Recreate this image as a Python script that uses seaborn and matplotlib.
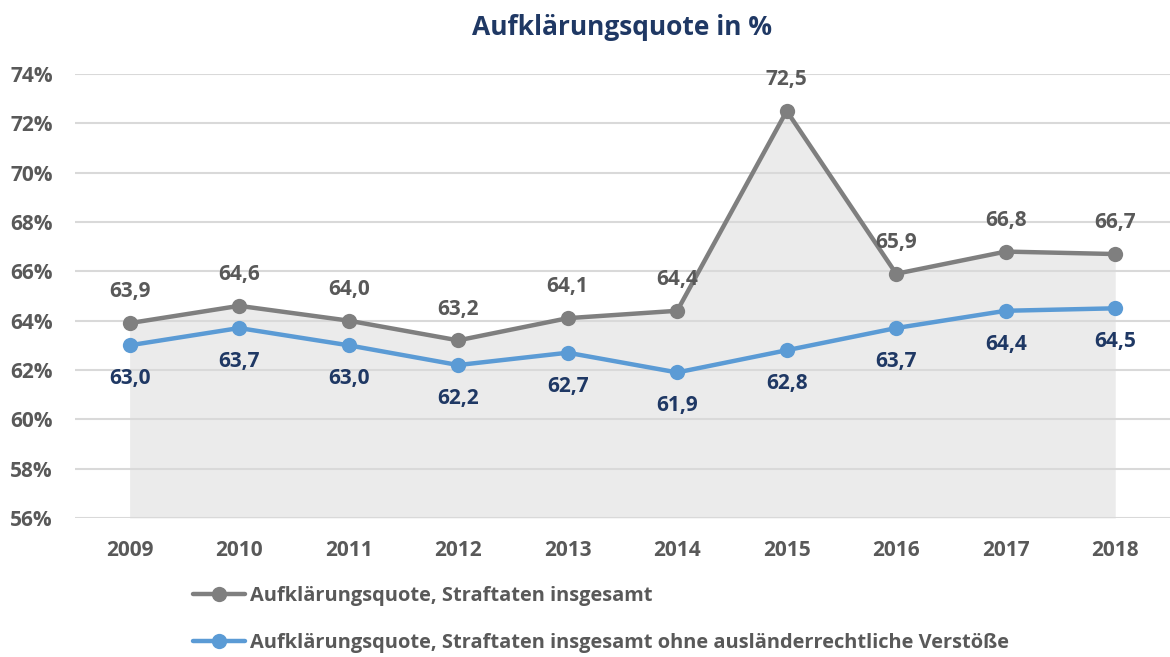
import matplotlib
matplotlib.use("Agg")
import matplotlib.pyplot as plt
import seaborn as sns
import pandas as pd

jahre = [2009, 2010, 2011, 2012, 2013, 2014, 2015, 2016, 2017, 2018]
insgesamt = [63.9, 64.6, 64.0, 63.2, 64.1, 64.4, 72.5, 65.9, 66.8, 66.7]
ohne_auslaender = [63.0, 63.7, 63.0, 62.2, 62.7, 61.9, 62.8, 63.7, 64.4, 64.5]
y_ticks = [56, 58, 60, 62, 64, 66, 68, 70, 72, 74]

name1 = "Aufklärungsquote, Straftaten insgesamt"
name2 = "Aufklärungsquote, Straftaten insgesamt ohne ausländerrechtliche Verstöße"

sns.set_style("white")
plt.rcParams["font.family"] = ["Open Sans", "DejaVu Sans"]

grau = "#7f7f7f"
blau = "#5b9bd5"
textgrau = "#595959"
navy = "#1f3864"

x = list(range(len(jahre)))
df = pd.DataFrame({"x": x * 2,
                   "wert": insgesamt + ohne_auslaender,
                   "reihe": [name1] * len(x) + [name2] * len(x)})

fig = plt.figure(figsize=(11.7, 6.57), dpi=100)
ax = fig.add_axes([0.064, 0.2116, 0.936, 0.6758])

# grey area under the total line
ax.fill_between(x, 56, insgesamt, color="#ebebeb", lw=0, zorder=0)

sns.lineplot(data=df, x="x", y="wert", hue="reihe", palette=[grau, blau],
             marker="o", markersize=11, markeredgewidth=0, linewidth=3.2,
             ax=ax, zorder=3)

for i, v in enumerate(insgesamt):
    ax.annotate(f"{v:.1f}".replace(".", ","), (i, v), xytext=(0, 22.5),
                textcoords="offset points", ha="center", va="center",
                fontsize=15, fontweight="bold", color=textgrau)
for i, v in enumerate(ohne_auslaender):
    ax.annotate(f"{v:.1f}".replace(".", ","), (i, v), xytext=(0, -24),
                textcoords="offset points", ha="center", va="center",
                fontsize=15, fontweight="bold", color=navy)

ax.set_xlim(-0.5, len(jahre) - 0.5)
ax.set_ylim(56, 74)
ax.set_yticks(y_ticks)
ax.set_yticklabels([f"{t}%" for t in y_ticks])
ax.set_xticks(x)
ax.set_xticklabels([str(j) for j in jahre])
ax.grid(axis="y", color="#d9d9d9", linewidth=1.5, zorder=1)
ax.set_axisbelow(True)
for s in ax.spines.values():
    s.set_visible(False)
ax.tick_params(axis="both", length=0, labelsize=15, labelcolor=textgrau)
ax.tick_params(axis="x", pad=16)
ax.tick_params(axis="y", pad=16)
for lbl in ax.get_xticklabels() + ax.get_yticklabels():
    lbl.set_fontweight("bold")
ax.set_xlabel("")
ax.set_ylabel("")

ax.set_title("Aufklärungsquote in %", fontsize=19, fontweight="bold",
             color=navy, pad=28)

leg = ax.legend(loc="upper left", bbox_to_anchor=(0.165, 0.108),
                bbox_transform=fig.transFigure, frameon=False,
                ncol=1, fontsize=14.4, handlelength=2.6, handletextpad=0.25,
                labelspacing=1.35, borderaxespad=0, borderpad=0)
for t in leg.get_texts():
    t.set_color(textgrau)
    t.set_fontweight("bold")

fig.savefig("out.png", dpi=100)
